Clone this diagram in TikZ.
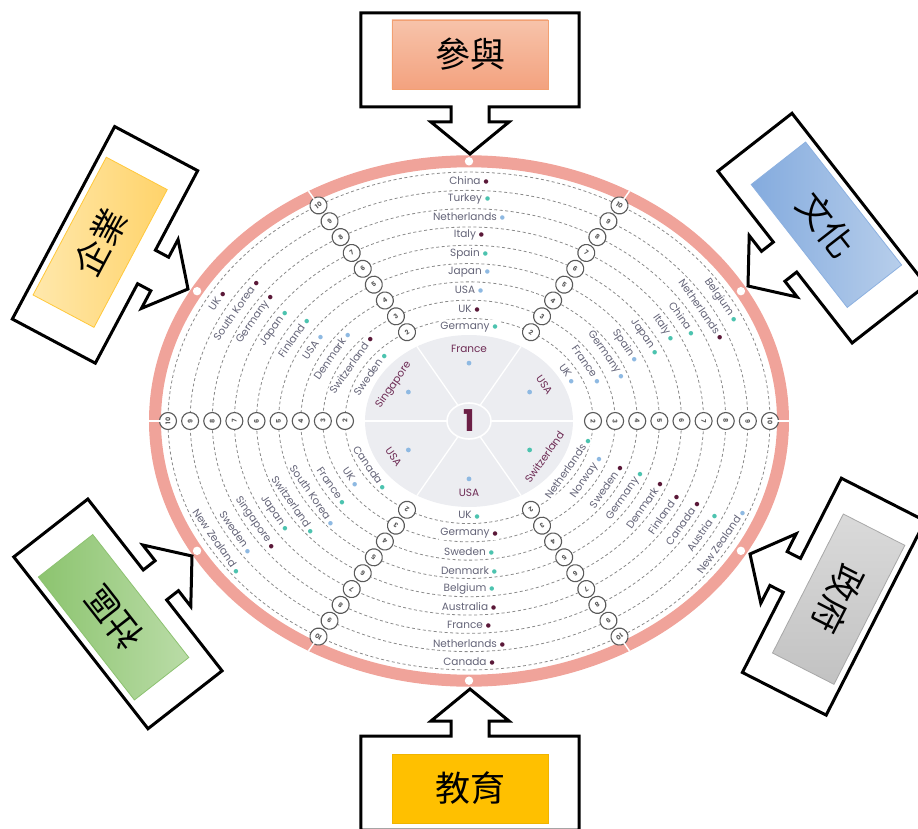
\documentclass[tikz,border=0pt]{standalone}
\usepackage{fontspec}
\setmainfont{Poppins}
\newfontfamily\cjk{Noto Sans CJK TC}
\newfontfamily\dejavu{DejaVu Sans}
\usetikzlibrary{calc}
\definecolor{ringpink}{HTML}{F0A39A}
\definecolor{disk}{HTML}{ECEDF1}
\definecolor{labgray}{HTML}{646478}
\definecolor{secmaroon}{HTML}{6E2C55}
\definecolor{onecol}{HTML}{6B1F45}
\definecolor{dmaroon}{HTML}{5A1838}
\definecolor{dteal}{HTML}{4CC3AF}
\definecolor{dblue}{HTML}{8EB9E2}
\definecolor{numgray}{HTML}{5A5A5A}
\definecolor{dashgray}{HTML}{8A8A8A}
\newcommand{\dt}[1]{\textcolor{#1}{\raisebox{0.8pt}{\dejavu\fontsize{5.8}{6}\selectfont ●}}}
\newcommand{\rlab}[4]{%
  \pgfmathsetmacro{\rr}{114+(#2-2)*22.125}%
  \pgfmathsetmacro{\rra}{atan2(-0.827*cos(#1), sin(#1))}%
  \pgfmathsetmacro{\rrb}{\rra>90 ? \rra-180 : (\rra<-90 ? \rra+180 : \rra)}%
  \node[ringlab, rotate=\rrb] (lab-#1-#2) at ({\rr*cos(#1)}, {0.827*\rr*sin(#1)}) {#3\hspace{3pt}\dt{#4}};}
\newcommand{\slab}[3]{%
  \pgfmathsetmacro{\rra}{atan2(-0.827*cos(#1), sin(#1))}%
  \pgfmathsetmacro{\rrb}{\rra>90 ? \rra-180 : (\rra<-90 ? \rra+180 : \rra)}%
  \node[seclab, rotate=\rrb] (sec-#1) at ({87*cos(#1)}, {0.827*87*sin(#1)}) {#2};
  \fill[#3] ({70*cos(#1)}, {0.827*70*sin(#1)}) circle (2.4);}
\newcommand{\callout}[7]{%
  \begin{scope}[shift={(#1,#2)}, rotate=#3]
    \draw[callbox] (0,0) -- (39,32) -- (19,32) -- (19,47) -- (109,47) -- (109,141)
      -- (-109,141) -- (-109,47) -- (-19,47) -- (-19,32) -- (-39,32) -- cycle;
    \coordinate (tip-#4) at (0,0);
    \node[inbox, #5, rotate=#7] (#4) at (0,99.5) {\cjk\fontsize{35}{35}\selectfont #6};
  \end{scope}}
\begin{document}
\begin{tikzpicture}[x=1pt, y=1pt,
  ringlab/.style={text=labgray, inner sep=1.2pt, fill=white, font=\fontsize{10.5}{12}\selectfont},
  seclab/.style={text=secmaroon, inner sep=1pt, font=\fontsize{10.5}{12}\selectfont},
  numc/.style={circle, draw=numgray, line width=1.1pt, fill=white, minimum size=17pt, inner sep=0pt, text=numgray, font=\fontsize{6.5}{7}\selectfont\bfseries},
  dashring/.style={draw=dashgray, dash pattern=on 3pt off 2.5pt, line width=0.8pt},
  callbox/.style={draw=black, line width=3pt, fill=white, line join=miter},
  inbox/.style={minimum width=156pt, minimum height=69pt, inner sep=0pt, line width=0.8pt},
  boxA/.style={top color=F7C3AA, bottom color=F3A27F, draw=F2A072},
  boxB/.style={left color=84ABDE, right color=B7CEEB, draw=8DB1E0},
  boxC/.style={left color=FFE8AC, right color=FFD36A, draw=FFC83A},
  boxD/.style={left color=8CC46F, right color=BADCA7, draw=8DC271},
  boxE/.style={top color=DADADA, bottom color=C2C2C2, draw=A8A8A8},
  boxF/.style={fill=FFC000, draw=F0B400}]
\definecolor{F7C3AA}{HTML}{F7C3AA}\definecolor{F3A27F}{HTML}{F3A27F}\definecolor{F2A072}{HTML}{F2A072}
\definecolor{84ABDE}{HTML}{84ABDE}\definecolor{B7CEEB}{HTML}{B7CEEB}\definecolor{8DB1E0}{HTML}{8DB1E0}
\definecolor{FFE8AC}{HTML}{FFE8AC}\definecolor{FFD36A}{HTML}{FFD36A}\definecolor{FFC83A}{HTML}{FFC83A}
\definecolor{8CC46F}{HTML}{8CC46F}\definecolor{BADCA7}{HTML}{BADCA7}\definecolor{8DC271}{HTML}{8DC271}
\definecolor{DADADA}{HTML}{DADADA}\definecolor{C2C2C2}{HTML}{C2C2C2}\definecolor{A8A8A8}{HTML}{A8A8A8}
\definecolor{FFC000}{HTML}{FFC000}\definecolor{F0B400}{HTML}{F0B400}
\useasboundingbox (-469,-407) rectangle (449,421);
% outer pink ring
\draw[ringpink, line width=12pt] (0,0) ellipse (314 and 259.7);
% dashed rings
\foreach \n in {2,...,10} {
  \pgfmathsetmacro{\rr}{124+(\n-2)*22.125}
  \draw[dashring] (0,0) ellipse ({\rr} and {0.827*\rr});
}
% central disk
\fill[disk] (0,0) ellipse (104 and 86);
\foreach \a in {0,60,...,300}
  \draw[white, line width=1.3pt] ({22*cos(\a)},{18*sin(\a)}) -- ({104*cos(\a)},{86*sin(\a)});
\draw[white, line width=1.6pt, fill=disk] (0,0) ellipse (22 and 18);
\node[text=onecol, font=\fontsize{30}{30}\selectfont\bfseries] (one) at (0,0) {1};
% sector labels
\slab{90}{France}{dblue}
\slab{30}{USA}{dblue}
\slab{150}{Singapore}{dblue}
\slab{210}{USA}{dblue}
\slab{270}{USA}{dblue}
\slab{330}{Switzerland}{dteal}
% ring labels, top
\rlab{90}{2}{Germany}{dteal}
\rlab{90}{3}{UK}{dmaroon}
\rlab{90}{4}{USA}{dblue}
\rlab{90}{5}{Japan}{dblue}
\rlab{90}{6}{Spain}{dteal}
\rlab{90}{7}{Italy}{dmaroon}
\rlab{90}{8}{Netherlands}{dblue}
\rlab{90}{9}{Turkey}{dteal}
\rlab{90}{10}{China}{dmaroon}
% upper right
\rlab{30}{2}{UK}{dblue}
\rlab{30}{3}{France}{dblue}
\rlab{30}{4}{Germany}{dblue}
\rlab{30}{5}{Spain}{dblue}
\rlab{30}{6}{Japan}{dteal}
\rlab{30}{7}{Italy}{dteal}
\rlab{30}{8}{China}{dteal}
\rlab{30}{9}{Netherlands}{dmaroon}
\rlab{30}{10}{Belgium}{dteal}
% upper left
\rlab{150}{2}{Sweden}{dteal}
\rlab{150}{3}{Switzerland}{dmaroon}
\rlab{150}{4}{Denmark}{dblue}
\rlab{150}{5}{USA}{dblue}
\rlab{150}{6}{Finland}{dteal}
\rlab{150}{7}{Japan}{dteal}
\rlab{150}{8}{Germany}{dmaroon}
\rlab{150}{9}{South Korea}{dmaroon}
\rlab{150}{10}{UK}{dmaroon}
% lower left
\rlab{210}{2}{Canada}{dteal}
\rlab{210}{3}{UK}{dblue}
\rlab{210}{4}{France}{dteal}
\rlab{210}{5}{South Korea}{dblue}
\rlab{210}{6}{Switzerland}{dteal}
\rlab{210}{7}{Japan}{dteal}
\rlab{210}{8}{Singapore}{dmaroon}
\rlab{210}{9}{Sweden}{dblue}
\rlab{210}{10}{New Zealand}{dteal}
% bottom
\rlab{270}{2}{UK}{dteal}
\rlab{270}{3}{Germany}{dmaroon}
\rlab{270}{4}{Sweden}{dteal}
\rlab{270}{5}{Denmark}{dteal}
\rlab{270}{6}{Belgium}{dteal}
\rlab{270}{7}{Australia}{dmaroon}
\rlab{270}{8}{France}{dmaroon}
\rlab{270}{9}{Netherlands}{dmaroon}
\rlab{270}{10}{Canada}{dmaroon}
% lower right
\rlab{330}{2}{Netherlands}{dteal}
\rlab{330}{3}{Norway}{dblue}
\rlab{330}{4}{Sweden}{dmaroon}
\rlab{330}{5}{Germany}{dteal}
\rlab{330}{6}{Denmark}{dmaroon}
\rlab{330}{7}{Finland}{dmaroon}
\rlab{330}{8}{Canada}{dmaroon}
\rlab{330}{9}{Austria}{dteal}
\rlab{330}{10}{New Zealand}{dblue}
% numbered circles
\foreach \a in {0,60,...,300} {
  \pgfmathsetmacro{\nrot}{atan2(0.827*sin(\a), cos(\a)) - 90}
  \foreach \n in {2,...,10} {
    \pgfmathsetmacro{\rr}{124+(\n-2)*22.125}
    \node[numc, rotate=\nrot] (num-\a-\n) at ({\rr*cos(\a)},{0.827*\rr*sin(\a)}) {\n};
  }
  \draw[white, line width=1.5pt] ({307*cos(\a)},{0.827*307*sin(\a)}) -- ({321*cos(\a)},{0.827*321*sin(\a)});
}
% white dots on ring
\foreach \a in {30,90,...,330}
  \fill[white] ({314*cos(\a)},{0.827*314*sin(\a)}) circle (4.2);
% callouts
\callout{1}{267}{0}{cbA}{boxA}{參與}{0}
\callout{279}{135}{-52}{cbB}{boxB}{文化}{-52}
\callout{-281}{132}{62}{cbC}{boxC}{企業}{62}
\callout{-277}{-135}{128}{cbD}{boxD}{社區}{128}
\callout{281}{-133}{243}{cbE}{boxE}{政府}{243}
\callout{1}{-268}{180}{cbF}{boxF}{教育}{0}
\end{tikzpicture}
\end{document}
